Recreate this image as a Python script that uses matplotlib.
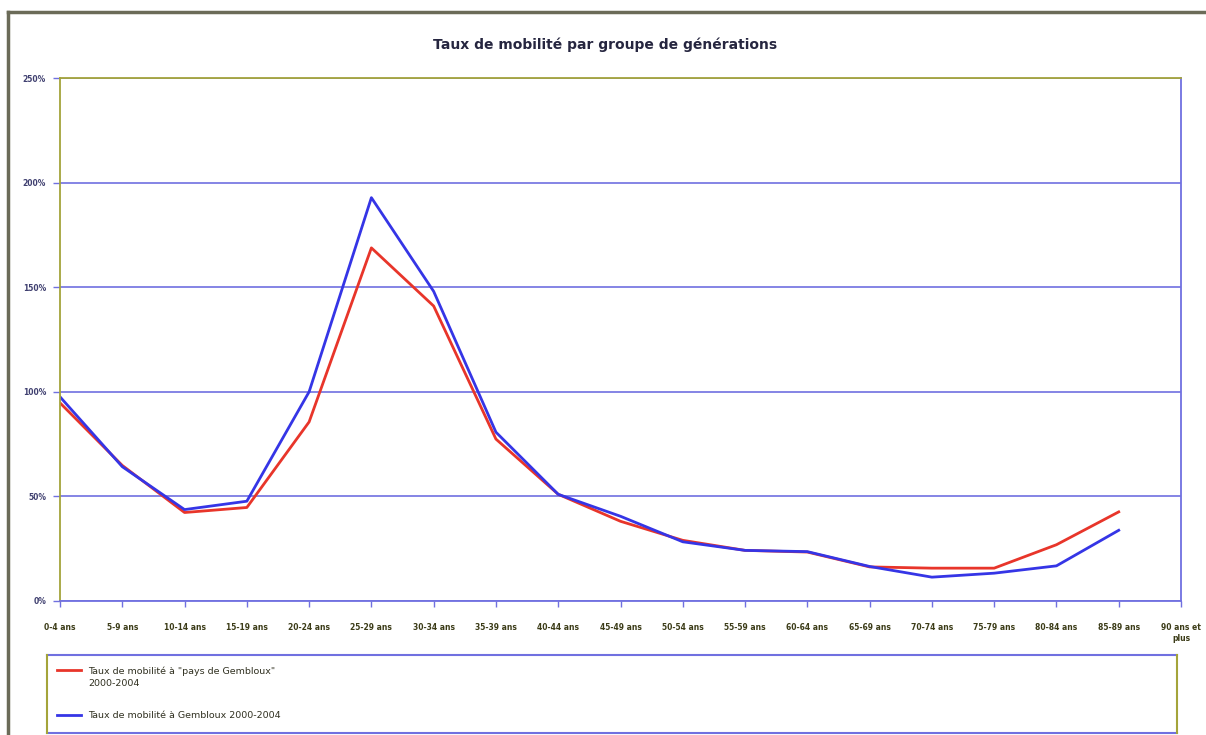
import numpy as np
import matplotlib
matplotlib.use("Agg")
import matplotlib.pyplot as plt
from matplotlib.lines import Line2D

# age groups (last one has no data)
categories = ["0-4 ans", "5-9 ans", "10-14 ans", "15-19 ans", "20-24 ans",
              "25-29 ans", "30-34 ans", "35-39 ans", "40-44 ans", "45-49 ans",
              "50-54 ans", "55-59 ans", "60-64 ans", "65-69 ans", "70-74 ans",
              "75-79 ans", "80-84 ans", "85-89 ans", "90 ans et\nplus"]

# mobility rate in %
pays_gembloux = [94.7, 64.8, 42.3, 44.7, 85.6, 168.8, 141.0, 77.4, 51.0, 38.1,
                 29.0, 24.2, 23.4, 16.3, 15.7, 15.7, 26.9, 42.6, np.nan]
gembloux = [97.6, 64.2, 43.7, 47.7, 100.0, 192.8, 148.0, 80.7, 51.0, 40.5,
            28.3, 24.2, 23.6, 16.5, 11.4, 13.3, 16.8, 33.8, np.nan]

y_ticks = [0, 50, 100, 150, 200, 250]
y_labels = ["0%", "50%", "100%", "150%", "200%", "250%"]

title = "Taux de mobilité par groupe de générations"
label_red = 'Taux de mobilité à "pays de Gembloux"\n2000-2004'
label_blue = "Taux de mobilité à Gembloux 2000-2004"

RED = "#e8352a"
BLUE = "#3535e6"
GRID = "#7070e0"
OLIVE = "#a4a43a"

W, H = 1206, 735
fig = plt.figure(figsize=(W / 100, H / 100), dpi=100)
fig.patch.set_facecolor("white")

# outer frame (screenshot border)
fig.add_artist(Line2D([8 / W, 1], [1 - 12 / H, 1 - 12 / H], color="#6b6b58", lw=2.5))
fig.add_artist(Line2D([8 / W, 8 / W], [0, 1 - 12 / H], color="#6b6b58", lw=2.5))

ax = fig.add_axes([60 / W, 134 / H, 1121 / W, 523 / H])
x = np.arange(len(categories))
ax.plot(x, pays_gembloux, color=RED, lw=2)
ax.plot(x, gembloux, color=BLUE, lw=2)

ax.set_xlim(0, len(categories) - 1)
ax.set_ylim(0, 250)
ax.set_yticks(y_ticks)
ax.set_yticklabels(y_labels)
ax.set_xticks(x)
ax.set_xticklabels(categories)
ax.grid(axis="y", color=GRID, lw=1.2)
ax.set_axisbelow(True)

ax.tick_params(axis="y", length=5, width=1, color=GRID, labelsize=5.5,
               labelcolor="#404070", pad=5)
ax.tick_params(axis="x", length=4, width=1, color=GRID, labelsize=5.5,
               labelcolor="#3c3c18", pad=12)
for lbl in ax.get_xticklabels() + ax.get_yticklabels():
    lbl.set_fontweight("bold")

ax.spines["left"].set_color(OLIVE)
ax.spines["top"].set_color(OLIVE)
ax.spines["right"].set_color(GRID)
ax.spines["bottom"].set_color(GRID)
for s in ax.spines.values():
    s.set_linewidth(1.3)

fig.text(605 / W, 1 - 45 / H, title, ha="center", va="center",
         fontsize=10, fontweight="bold", color="#262640")

# legend box
lx0, lx1, ly0, ly1 = 47, 1177, 655, 733
fig.add_artist(Line2D([lx0 / W, lx1 / W], [1 - ly0 / H] * 2, color=GRID, lw=1.5))
fig.add_artist(Line2D([lx0 / W, lx1 / W], [1 - ly1 / H] * 2, color=GRID, lw=1.5))
fig.add_artist(Line2D([lx0 / W] * 2, [1 - ly0 / H, 1 - ly1 / H], color=OLIVE, lw=1.5))
fig.add_artist(Line2D([lx1 / W] * 2, [1 - ly0 / H, 1 - ly1 / H], color=OLIVE, lw=1.5))

fig.add_artist(Line2D([57 / W, 81 / W], [1 - 670 / H] * 2, color=RED, lw=2))
fig.add_artist(Line2D([57 / W, 81 / W], [1 - 715 / H] * 2, color=BLUE, lw=2))
fig.text(88 / W, 1 - 677 / H, label_red, ha="left", va="center",
         fontsize=6.8, color="#303020", linespacing=1.5)
fig.text(88 / W, 1 - 715 / H, label_blue, ha="left", va="center",
         fontsize=6.8, color="#303020")

fig.savefig("out.png", dpi=100)
